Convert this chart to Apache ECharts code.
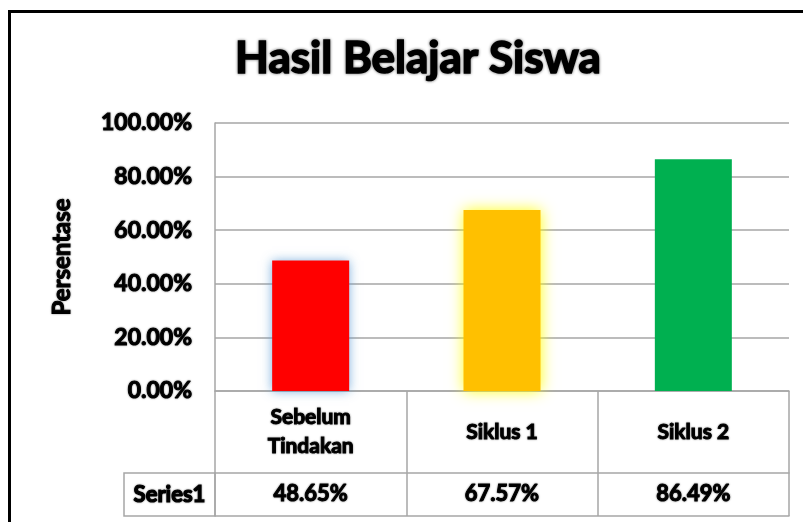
<!DOCTYPE html>
<html>
<head>
<meta charset="utf-8">
<script src="https://cdn.jsdelivr.net/npm/echarts@6/dist/echarts.min.js"></script>
<style>html,body{margin:0;padding:0;background:#fff;}#main{width:803px;height:522px;}</style>
</head>
<body>
<div id="main"></div>
<script>
var titleText = 'Hasil Belajar Siswa';
var yAxisName = 'Persentase';
var categories = ['Sebelum\nTindakan', 'Siklus 1', 'Siklus 2'];
var seriesName = 'Series1';
var values = [0.4865, 0.6757, 0.8649];
var barColors = ['#FF0000', '#FFC000', '#00B050'];
var yTicks = [0, 0.2, 0.4, 0.6, 0.8, 1.0];

var FONT = 'Lato';
var W = 'bold';
var GRAY = '#a6a6a6';
var chart = echarts.init(document.getElementById('main'), null, {renderer: 'canvas'});

function pct(v) { return (v * 100).toFixed(2) + '%'; }

function txt(size, extra) {
  var o = { fontFamily: FONT, fontWeight: W, fontSize: size, color: '#000',
    textBorderColor: '#000', textBorderWidth: 1,
    textShadowColor: 'rgba(0,0,0,0.4)', textShadowBlur: 2 };
  if (extra) { for (var k in extra) o[k] = extra[k]; }
  return o;
}

var option = {
  backgroundColor: '#ffffff',
  animation: false,
  title: {
    text: titleText,
    left: 413,
    textAlign: 'center',
    top: 32,
    textStyle: txt(44, { textBorderWidth: 1.6, textShadowBlur: 3, textShadowColor: 'rgba(0,0,0,0.5)' })
  },
  grid: { left: 215, right: 14, top: 123, bottom: 131, containLabel: false },
  yAxis: {
    type: 'value',
    min: yTicks[0], max: yTicks[yTicks.length - 1], interval: 0.2,
    name: yAxisName,
    nameLocation: 'middle',
    nameGap: 141,
    nameRotate: 90,
    nameTextStyle: txt(24),
    axisLine: { show: true, lineStyle: { color: GRAY, width: 1.5 } },
    axisTick: { show: false },
    splitLine: { show: true, lineStyle: { color: GRAY, width: 1.5 } },
    axisLabel: txt(23, {
      formatter: function (v) { return pct(v); },
      margin: 23
    })
  },
  xAxis: [
    {
      type: 'category',
      data: categories,
      position: 'bottom',
      axisLine: { show: true, lineStyle: { color: GRAY, width: 1.5 } },
      axisTick: { show: true, interval: 0, length: 82, inside: false, lineStyle: { color: GRAY, width: 1.5 } },
      axisLabel: txt(21, { interval: 0, margin: 41, verticalAlign: 'middle', lineHeight: 29 })
    },
    {
      type: 'category',
      data: values.map(pct),
      position: 'bottom',
      offset: 82,
      axisLine: { show: true, lineStyle: { color: GRAY, width: 1.5 } },
      axisTick: { show: true, interval: 0, length: 43, lineStyle: { color: GRAY, width: 1.5 } },
      axisLabel: txt(22, { interval: 0, margin: 21, verticalAlign: 'middle' })
    },
    {
      type: 'category',
      data: categories,
      position: 'bottom',
      offset: 125,
      axisLine: { show: true, lineStyle: { color: GRAY, width: 1.5 } },
      axisTick: { show: false },
      axisLabel: { show: false }
    }
  ],
  series: [{
    name: seriesName,
    type: 'bar',
    xAxisIndex: 0,
    barWidth: 77,
    data: values.map(function (v, i) {
      var st = { color: barColors[i] };
      if (i === 0) { st.shadowColor = 'rgba(91,155,213,0.8)'; st.shadowBlur = 10; }
      if (i === 1) { st.shadowColor = 'rgba(255,255,0,0.9)'; st.shadowBlur = 14; }
      return { value: v, itemStyle: st };
    })
  }],
  graphic: []
};
chart.setOption(option);

var p0 = chart.convertToPixel({xAxisIndex: 0, yAxisIndex: 0}, [0, 0]);
var gridLeft = 215, gridBottom = p0[1];
var rowTop = gridBottom + 82, rowBottom = gridBottom + 125;
chart.setOption({
  graphic: [
    { type: 'rect', shape: { x: 124, y: rowTop, width: gridLeft - 124, height: rowBottom - rowTop },
      style: { fill: 'none', stroke: GRAY, lineWidth: 1.5 } },
    { type: 'text', x: (124 + gridLeft) / 2, y: (rowTop + rowBottom) / 2,
      style: { text: seriesName, align: 'center', verticalAlign: 'middle',
        font: 'bold 22px ' + FONT, fill: '#000', stroke: '#000', lineWidth: 1.2,
        textShadowColor: 'rgba(0,0,0,0.4)', textShadowBlur: 2 } },
    { type: 'line', shape: { x1: 8, y1: 11.5, x2: 803, y2: 11.5 }, style: { stroke: '#000', lineWidth: 3 } },
    { type: 'line', shape: { x1: 9.5, y1: 10, x2: 9.5, y2: 522 }, style: { stroke: '#000', lineWidth: 3 } }
  ]
});
</script>
</body>
</html>
